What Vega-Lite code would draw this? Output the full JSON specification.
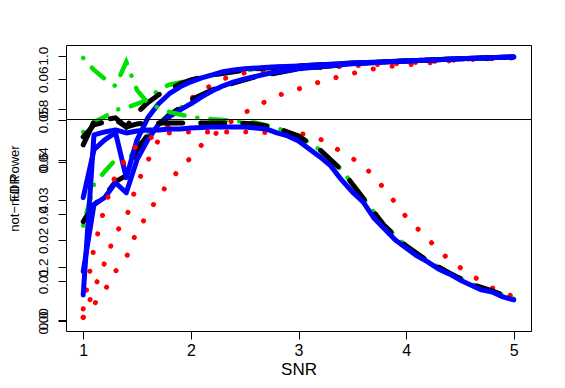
{
  "$schema": "https://vega.github.io/schema/vega-lite/v6.json",
  "width": 465,
  "height": 286,
  "autosize": "none",
  "padding": {"left": 66, "top": 45, "right": 34, "bottom": 57},
  "background": "white",
  "config": {
    "view": {"stroke": "black", "strokeWidth": 1},
    "font": "Liberation Sans",
    "axis": {"grid": false, "domain": false, "tickColor": "black", "tickWidth": 1, "tickSize": 8, "labelColor": "black", "titleColor": "black", "labelFont": "Liberation Sans", "titleFont": "Liberation Sans", "titleFontWeight": "normal"}
  },
  "datasets": {
    "power": [
      {"k": "red", "c": "r2", "s": 1.0, "v": 0.0113}, {"k": "red", "c": "r2", "s": 1.1, "v": 0.117}, {"k": "red", "c": "r2", "s": 1.2, "v": 0.219}, {"k": "red", "c": "r2", "s": 1.3, "v": 0.328}, {"k": "red", "c": "r2", "s": 1.4, "v": 0.388}, {"k": "red", "c": "r2", "s": 1.5, "v": 0.516}, {"k": "red", "c": "r2", "s": 1.6, "v": 0.603}, {"k": "red", "c": "r2", "s": 1.7, "v": 0.682}, {"k": "red", "c": "r2", "s": 1.8, "v": 0.743}, {"k": "red", "c": "r2", "s": 1.9, "v": 0.795}, {"k": "red", "c": "r2", "s": 2.0, "v": 0.837}, {"k": "red", "c": "r2", "s": 2.1, "v": 0.867}, {"k": "red", "c": "r2", "s": 2.2, "v": 0.89}, {"k": "red", "c": "r2", "s": 2.3, "v": 0.912}, {"k": "red", "c": "r2", "s": 2.5, "v": 0.935}, {"k": "red", "c": "r2", "s": 3.0, "v": 0.95}, {"k": "red", "c": "r2", "s": 3.5, "v": 0.961}, {"k": "red", "c": "r2", "s": 4.0, "v": 0.972}, {"k": "red", "c": "r2", "s": 4.5, "v": 0.984}, {"k": "red", "c": "r2", "s": 5.0, "v": 0.991},
      {"k": "red", "c": "r3", "s": 1.0, "v": 0.0113}, {"k": "red", "c": "r3", "s": 1.1, "v": 0.0603}, {"k": "red", "c": "r3", "s": 1.2, "v": 0.113}, {"k": "red", "c": "r3", "s": 1.3, "v": 0.185}, {"k": "red", "c": "r3", "s": 1.4, "v": 0.237}, {"k": "red", "c": "r3", "s": 1.5, "v": 0.339}, {"k": "red", "c": "r3", "s": 1.6, "v": 0.4}, {"k": "red", "c": "r3", "s": 1.7, "v": 0.471}, {"k": "red", "c": "r3", "s": 1.8, "v": 0.52}, {"k": "red", "c": "r3", "s": 1.9, "v": 0.577}, {"k": "red", "c": "r3", "s": 2.0, "v": 0.614}, {"k": "red", "c": "r3", "s": 2.1, "v": 0.663}, {"k": "red", "c": "r3", "s": 2.2, "v": 0.694}, {"k": "red", "c": "r3", "s": 2.3, "v": 0.731}, {"k": "red", "c": "r3", "s": 2.4, "v": 0.758}, {"k": "red", "c": "r3", "s": 2.5, "v": 0.784}, {"k": "red", "c": "r3", "s": 2.6, "v": 0.807}, {"k": "red", "c": "r3", "s": 2.8, "v": 0.848}, {"k": "red", "c": "r3", "s": 3.0, "v": 0.874}, {"k": "red", "c": "r3", "s": 3.2, "v": 0.901}, {"k": "red", "c": "r3", "s": 3.4, "v": 0.923}, {"k": "red", "c": "r3", "s": 3.6, "v": 0.942}, {"k": "red", "c": "r3", "s": 3.8, "v": 0.957}, {"k": "red", "c": "r3", "s": 4.0, "v": 0.965}, {"k": "red", "c": "r3", "s": 4.2, "v": 0.972}, {"k": "red", "c": "r3", "s": 4.4, "v": 0.98}, {"k": "red", "c": "r3", "s": 4.6, "v": 0.988}, {"k": "red", "c": "r3", "s": 4.8, "v": 0.988}, {"k": "red", "c": "r3", "s": 5.0, "v": 0.995},
      {"k": "green", "c": "gpu", "s": 1.0, "v": 0.712}, {"k": "green", "c": "gpu", "s": 1.1, "v": 0.75}, {"k": "green", "c": "gpu", "s": 1.2, "v": 0.769}, {"k": "green", "c": "gpu", "s": 1.3, "v": 0.795}, {"k": "green", "c": "gpu", "s": 1.4, "v": 0.803}, {"k": "green", "c": "gpu", "s": 1.5, "v": 0.818}, {"k": "green", "c": "gpu", "s": 1.6, "v": 0.833}, {"k": "green", "c": "gpu", "s": 1.7, "v": 0.871}, {"k": "green", "c": "gpu", "s": 1.8, "v": 0.89}, {"k": "green", "c": "gpu", "s": 2.0, "v": 0.908}, {"k": "green", "c": "gpu", "s": 2.2, "v": 0.927}, {"k": "green", "c": "gpu", "s": 2.4, "v": 0.939}, {"k": "green", "c": "gpu", "s": 2.6, "v": 0.95}, {"k": "green", "c": "gpu", "s": 3.0, "v": 0.961}, {"k": "green", "c": "gpu", "s": 3.5, "v": 0.972}, {"k": "green", "c": "gpu", "s": 4.0, "v": 0.98}, {"k": "green", "c": "gpu", "s": 4.5, "v": 0.988}, {"k": "green", "c": "gpu", "s": 5.0, "v": 0.995},
      {"k": "green", "c": "gpl", "s": 1.0, "v": 0.358}, {"k": "green", "c": "gpl", "s": 1.1, "v": 0.513}, {"k": "green", "c": "gpl", "s": 1.2, "v": 0.562}, {"k": "green", "c": "gpl", "s": 1.3, "v": 0.607}, {"k": "green", "c": "gpl", "s": 1.4, "v": 0.588}, {"k": "green", "c": "gpl", "s": 1.5, "v": 0.663}, {"k": "green", "c": "gpl", "s": 1.6, "v": 0.701}, {"k": "green", "c": "gpl", "s": 1.8, "v": 0.78}, {"k": "green", "c": "gpl", "s": 2.0, "v": 0.825}, {"k": "green", "c": "gpl", "s": 2.2, "v": 0.867}, {"k": "green", "c": "gpl", "s": 2.4, "v": 0.897}, {"k": "green", "c": "gpl", "s": 2.6, "v": 0.92}, {"k": "green", "c": "gpl", "s": 3.0, "v": 0.95}, {"k": "green", "c": "gpl", "s": 3.5, "v": 0.969}, {"k": "green", "c": "gpl", "s": 4.0, "v": 0.98}, {"k": "green", "c": "gpl", "s": 4.5, "v": 0.988}, {"k": "green", "c": "gpl", "s": 5.0, "v": 0.995},
      {"k": "black", "c": "kpu", "s": 1.0, "v": 0.663}, {"k": "black", "c": "kpu", "s": 1.1, "v": 0.75}, {"k": "black", "c": "kpu", "s": 1.2, "v": 0.758}, {"k": "black", "c": "kpu", "s": 1.3, "v": 0.765}, {"k": "black", "c": "kpu", "s": 1.4, "v": 0.731}, {"k": "black", "c": "kpu", "s": 1.5, "v": 0.784}, {"k": "black", "c": "kpu", "s": 1.6, "v": 0.822}, {"k": "black", "c": "kpu", "s": 1.7, "v": 0.852}, {"k": "black", "c": "kpu", "s": 1.8, "v": 0.874}, {"k": "black", "c": "kpu", "s": 1.9, "v": 0.893}, {"k": "black", "c": "kpu", "s": 2.0, "v": 0.908}, {"k": "black", "c": "kpu", "s": 2.2, "v": 0.927}, {"k": "black", "c": "kpu", "s": 2.4, "v": 0.939}, {"k": "black", "c": "kpu", "s": 2.6, "v": 0.95}, {"k": "black", "c": "kpu", "s": 3.0, "v": 0.961}, {"k": "black", "c": "kpu", "s": 3.5, "v": 0.972}, {"k": "black", "c": "kpu", "s": 4.0, "v": 0.98}, {"k": "black", "c": "kpu", "s": 4.5, "v": 0.988}, {"k": "black", "c": "kpu", "s": 5.0, "v": 0.995},
      {"k": "black", "c": "kpl", "s": 1.0, "v": 0.373}, {"k": "black", "c": "kpl", "s": 1.1, "v": 0.437}, {"k": "black", "c": "kpl", "s": 1.2, "v": 0.471}, {"k": "black", "c": "kpl", "s": 1.3, "v": 0.524}, {"k": "black", "c": "kpl", "s": 1.4, "v": 0.547}, {"k": "black", "c": "kpl", "s": 1.5, "v": 0.645}, {"k": "black", "c": "kpl", "s": 1.6, "v": 0.701}, {"k": "black", "c": "kpl", "s": 1.7, "v": 0.739}, {"k": "black", "c": "kpl", "s": 1.8, "v": 0.776}, {"k": "black", "c": "kpl", "s": 1.9, "v": 0.803}, {"k": "black", "c": "kpl", "s": 2.0, "v": 0.833}, {"k": "black", "c": "kpl", "s": 2.2, "v": 0.871}, {"k": "black", "c": "kpl", "s": 2.4, "v": 0.897}, {"k": "black", "c": "kpl", "s": 2.6, "v": 0.92}, {"k": "black", "c": "kpl", "s": 3.0, "v": 0.95}, {"k": "black", "c": "kpl", "s": 3.5, "v": 0.969}, {"k": "black", "c": "kpl", "s": 4.0, "v": 0.98}, {"k": "black", "c": "kpl", "s": 4.5, "v": 0.988}, {"k": "black", "c": "kpl", "s": 5.0, "v": 0.995},
      {"k": "blue", "c": "bpu", "s": 1.0, "v": 0.464}, {"k": "blue", "c": "bpu", "s": 1.1, "v": 0.645}, {"k": "blue", "c": "bpu", "s": 1.2, "v": 0.682}, {"k": "blue", "c": "bpu", "s": 1.3, "v": 0.709}, {"k": "blue", "c": "bpu", "s": 1.4, "v": 0.539}, {"k": "blue", "c": "bpu", "s": 1.5, "v": 0.682}, {"k": "blue", "c": "bpu", "s": 1.6, "v": 0.765}, {"k": "blue", "c": "bpu", "s": 1.7, "v": 0.818}, {"k": "blue", "c": "bpu", "s": 1.8, "v": 0.856}, {"k": "blue", "c": "bpu", "s": 1.9, "v": 0.882}, {"k": "blue", "c": "bpu", "s": 2.0, "v": 0.901}, {"k": "blue", "c": "bpu", "s": 2.1, "v": 0.916}, {"k": "blue", "c": "bpu", "s": 2.2, "v": 0.927}, {"k": "blue", "c": "bpu", "s": 2.3, "v": 0.939}, {"k": "blue", "c": "bpu", "s": 2.4, "v": 0.946}, {"k": "blue", "c": "bpu", "s": 2.5, "v": 0.95}, {"k": "blue", "c": "bpu", "s": 2.75, "v": 0.957}, {"k": "blue", "c": "bpu", "s": 3.0, "v": 0.961}, {"k": "blue", "c": "bpu", "s": 3.5, "v": 0.972}, {"k": "blue", "c": "bpu", "s": 4.0, "v": 0.98}, {"k": "blue", "c": "bpu", "s": 4.5, "v": 0.988}, {"k": "blue", "c": "bpu", "s": 5.0, "v": 0.995},
      {"k": "blue", "c": "bpl", "s": 1.0, "v": 0.185}, {"k": "blue", "c": "bpl", "s": 1.1, "v": 0.437}, {"k": "blue", "c": "bpl", "s": 1.2, "v": 0.464}, {"k": "blue", "c": "bpl", "s": 1.3, "v": 0.52}, {"k": "blue", "c": "bpl", "s": 1.4, "v": 0.482}, {"k": "blue", "c": "bpl", "s": 1.5, "v": 0.607}, {"k": "blue", "c": "bpl", "s": 1.6, "v": 0.682}, {"k": "blue", "c": "bpl", "s": 1.7, "v": 0.741}, {"k": "blue", "c": "bpl", "s": 1.8, "v": 0.769}, {"k": "blue", "c": "bpl", "s": 1.9, "v": 0.795}, {"k": "blue", "c": "bpl", "s": 2.0, "v": 0.818}, {"k": "blue", "c": "bpl", "s": 2.1, "v": 0.844}, {"k": "blue", "c": "bpl", "s": 2.2, "v": 0.867}, {"k": "blue", "c": "bpl", "s": 2.3, "v": 0.886}, {"k": "blue", "c": "bpl", "s": 2.4, "v": 0.901}, {"k": "blue", "c": "bpl", "s": 2.5, "v": 0.912}, {"k": "blue", "c": "bpl", "s": 2.75, "v": 0.935}, {"k": "blue", "c": "bpl", "s": 3.0, "v": 0.95}, {"k": "blue", "c": "bpl", "s": 3.5, "v": 0.969}, {"k": "blue", "c": "bpl", "s": 4.0, "v": 0.98}, {"k": "blue", "c": "bpl", "s": 4.5, "v": 0.988}, {"k": "blue", "c": "bpl", "s": 5.0, "v": 0.995}
    ],
    "fdr": [
      {"k": "red", "c": "rf", "s": 1.0, "v": 0.00298}, {"k": "red", "c": "rf", "s": 1.1, "v": 0.01812}, {"k": "red", "c": "rf", "s": 1.2, "v": 0.0283}, {"k": "red", "c": "rf", "s": 1.3, "v": 0.03625}, {"k": "red", "c": "rf", "s": 1.4, "v": 0.04047}, {"k": "red", "c": "rf", "s": 1.5, "v": 0.0437}, {"k": "red", "c": "rf", "s": 1.6, "v": 0.04518}, {"k": "red", "c": "rf", "s": 1.7, "v": 0.04643}, {"k": "red", "c": "rf", "s": 1.8, "v": 0.04667}, {"k": "red", "c": "rf", "s": 2.0, "v": 0.04692}, {"k": "red", "c": "rf", "s": 2.5, "v": 0.04692}, {"k": "red", "c": "rf", "s": 2.8, "v": 0.04667}, {"k": "red", "c": "rf", "s": 3.0, "v": 0.04667}, {"k": "red", "c": "rf", "s": 3.2, "v": 0.04518}, {"k": "red", "c": "rf", "s": 3.4, "v": 0.04196}, {"k": "red", "c": "rf", "s": 3.6, "v": 0.03873}, {"k": "red", "c": "rf", "s": 3.8, "v": 0.03277}, {"k": "red", "c": "rf", "s": 4.0, "v": 0.02582}, {"k": "red", "c": "rf", "s": 4.2, "v": 0.02036}, {"k": "red", "c": "rf", "s": 4.4, "v": 0.01514}, {"k": "red", "c": "rf", "s": 4.6, "v": 0.01142}, {"k": "red", "c": "rf", "s": 4.8, "v": 0.00819}, {"k": "red", "c": "rf", "s": 5.0, "v": 0.00596},
      {"k": "green", "c": "gf", "s": 1.0, "v": 0.0653}, {"k": "green", "c": "gf", "s": 1.1, "v": 0.0623}, {"k": "green", "c": "gf", "s": 1.2, "v": 0.0601}, {"k": "green", "c": "gf", "s": 1.3, "v": 0.0583}, {"k": "green", "c": "gf", "s": 1.4, "v": 0.0643}, {"k": "green", "c": "gf", "s": 1.5, "v": 0.0573}, {"k": "green", "c": "gf", "s": 1.6, "v": 0.0541}, {"k": "green", "c": "gf", "s": 1.7, "v": 0.0529}, {"k": "green", "c": "gf", "s": 1.8, "v": 0.0519}, {"k": "green", "c": "gf", "s": 2.0, "v": 0.0506}, {"k": "green", "c": "gf", "s": 2.2, "v": 0.0501}, {"k": "green", "c": "gf", "s": 2.4, "v": 0.0497}, {"k": "green", "c": "gf", "s": 2.6, "v": 0.0492}, {"k": "green", "c": "gf", "s": 2.8, "v": 0.0479}, {"k": "green", "c": "gf", "s": 3.0, "v": 0.0459}, {"k": "green", "c": "gf", "s": 3.2, "v": 0.04245}, {"k": "green", "c": "gf", "s": 3.4, "v": 0.0375}, {"k": "green", "c": "gf", "s": 3.6, "v": 0.0305}, {"k": "green", "c": "gf", "s": 3.8, "v": 0.0236}, {"k": "green", "c": "gf", "s": 4.0, "v": 0.0186}, {"k": "green", "c": "gf", "s": 4.2, "v": 0.0149}, {"k": "green", "c": "gf", "s": 4.4, "v": 0.0119}, {"k": "green", "c": "gf", "s": 4.6, "v": 0.0092}, {"k": "green", "c": "gf", "s": 4.8, "v": 0.0074}, {"k": "green", "c": "gf", "s": 5.0, "v": 0.0055},
      {"k": "black", "c": "kf", "s": 1.0, "v": 0.04568}, {"k": "black", "c": "kf", "s": 1.1, "v": 0.04866}, {"k": "black", "c": "kf", "s": 1.2, "v": 0.0494}, {"k": "black", "c": "kf", "s": 1.3, "v": 0.0499}, {"k": "black", "c": "kf", "s": 1.4, "v": 0.04816}, {"k": "black", "c": "kf", "s": 1.5, "v": 0.04891}, {"k": "black", "c": "kf", "s": 1.6, "v": 0.04916}, {"k": "black", "c": "kf", "s": 1.8, "v": 0.04916}, {"k": "black", "c": "kf", "s": 2.0, "v": 0.04916}, {"k": "black", "c": "kf", "s": 2.2, "v": 0.04916}, {"k": "black", "c": "kf", "s": 2.4, "v": 0.04916}, {"k": "black", "c": "kf", "s": 2.6, "v": 0.04891}, {"k": "black", "c": "kf", "s": 2.8, "v": 0.04791}, {"k": "black", "c": "kf", "s": 3.0, "v": 0.04593}, {"k": "black", "c": "kf", "s": 3.2, "v": 0.04245}, {"k": "black", "c": "kf", "s": 3.4, "v": 0.03749}, {"k": "black", "c": "kf", "s": 3.6, "v": 0.03054}, {"k": "black", "c": "kf", "s": 3.8, "v": 0.02358}, {"k": "black", "c": "kf", "s": 4.0, "v": 0.01862}, {"k": "black", "c": "kf", "s": 4.2, "v": 0.0149}, {"k": "black", "c": "kf", "s": 4.4, "v": 0.01192}, {"k": "black", "c": "kf", "s": 4.6, "v": 0.00919}, {"k": "black", "c": "kf", "s": 4.8, "v": 0.00745}, {"k": "black", "c": "kf", "s": 5.0, "v": 0.00546},
      {"k": "blue", "c": "bf", "s": 1.0, "v": 0.00645}, {"k": "blue", "c": "bf", "s": 1.1, "v": 0.04618}, {"k": "blue", "c": "bf", "s": 1.2, "v": 0.04692}, {"k": "blue", "c": "bf", "s": 1.3, "v": 0.04742}, {"k": "blue", "c": "bf", "s": 1.4, "v": 0.04667}, {"k": "blue", "c": "bf", "s": 1.5, "v": 0.04717}, {"k": "blue", "c": "bf", "s": 1.6, "v": 0.04742}, {"k": "blue", "c": "bf", "s": 1.7, "v": 0.04742}, {"k": "blue", "c": "bf", "s": 1.8, "v": 0.04767}, {"k": "blue", "c": "bf", "s": 1.9, "v": 0.04767}, {"k": "blue", "c": "bf", "s": 2.0, "v": 0.04791}, {"k": "blue", "c": "bf", "s": 2.2, "v": 0.04816}, {"k": "blue", "c": "bf", "s": 2.4, "v": 0.04816}, {"k": "blue", "c": "bf", "s": 2.5, "v": 0.04816}, {"k": "blue", "c": "bf", "s": 2.6, "v": 0.04791}, {"k": "blue", "c": "bf", "s": 2.7, "v": 0.04767}, {"k": "blue", "c": "bf", "s": 2.8, "v": 0.04667}, {"k": "blue", "c": "bf", "s": 2.9, "v": 0.04593}, {"k": "blue", "c": "bf", "s": 3.0, "v": 0.04469}, {"k": "blue", "c": "bf", "s": 3.1, "v": 0.0427}, {"k": "blue", "c": "bf", "s": 3.2, "v": 0.04072}, {"k": "blue", "c": "bf", "s": 3.3, "v": 0.03848}, {"k": "blue", "c": "bf", "s": 3.4, "v": 0.035}, {"k": "blue", "c": "bf", "s": 3.5, "v": 0.03203}, {"k": "blue", "c": "bf", "s": 3.6, "v": 0.02954}, {"k": "blue", "c": "bf", "s": 3.7, "v": 0.02557}, {"k": "blue", "c": "bf", "s": 3.8, "v": 0.02284}, {"k": "blue", "c": "bf", "s": 3.9, "v": 0.02011}, {"k": "blue", "c": "bf", "s": 4.0, "v": 0.01812}, {"k": "blue", "c": "bf", "s": 4.1, "v": 0.01614}, {"k": "blue", "c": "bf", "s": 4.2, "v": 0.01465}, {"k": "blue", "c": "bf", "s": 4.3, "v": 0.01291}, {"k": "blue", "c": "bf", "s": 4.4, "v": 0.01167}, {"k": "blue", "c": "bf", "s": 4.5, "v": 0.01018}, {"k": "blue", "c": "bf", "s": 4.6, "v": 0.00894}, {"k": "blue", "c": "bf", "s": 4.7, "v": 0.0077}, {"k": "blue", "c": "bf", "s": 4.8, "v": 0.0072}, {"k": "blue", "c": "bf", "s": 4.9, "v": 0.00596}, {"k": "blue", "c": "bf", "s": 5.0, "v": 0.00521}
    ],
    "ref": [{"v": 0.05}]
  },
  "layer": [
    {
      "data": {"name": "power"},
      "encoding": {
        "x": {"field": "s", "type": "quantitative", "scale": {"domain": [0.84, 5.16], "nice": false, "zero": false}, "axis": {"values": [1, 2, 3, 4, 5], "format": "d", "labelFontSize": 16, "labelPadding": 3, "title": "SNR", "titleFontSize": 17, "titleY": 43, "titleBaseline": "alphabetic"}},
        "y": {"field": "v", "type": "quantitative", "scale": {"domain": [-0.04, 1.04], "nice": false, "zero": false}, "axis": {"orient": "left", "values": [0, 0.2, 0.4, 0.6, 0.8, 1], "format": ".1f", "labelAngle": -90, "labelAlign": "center", "labelBaseline": "alphabetic", "labelFontSize": 13.5, "labelPadding": 11, "title": "not−null Power", "titleFontSize": 13, "titleAngle": -90, "titleX": -48, "titleY": 143, "titleAlign": "center", "titleBaseline": "alphabetic"}},
        "detail": {"field": "c"}
      },
      "layer": [
        {"transform": [{"filter": "datum.k === 'red'"}], "mark": {"type": "line", "color": "#ff0000", "strokeWidth": 5, "strokeDash": [0.1, 19], "strokeCap": "round", "clip": true}},
        {"transform": [{"filter": "datum.k === 'green'"}], "mark": {"type": "line", "color": "#00e000", "strokeWidth": 4.5, "strokeDash": [0.1, 13, 16, 13], "strokeCap": "round", "clip": true}},
        {"transform": [{"filter": "datum.k === 'black'"}], "mark": {"type": "line", "color": "#000000", "strokeWidth": 5, "strokeDash": [24, 18], "strokeCap": "round", "clip": true}},
        {"transform": [{"filter": "datum.k === 'blue'"}], "mark": {"type": "line", "color": "#0000ff", "strokeWidth": 5, "strokeCap": "round", "strokeJoin": "round", "clip": true}}
      ]
    },
    {
      "data": {"name": "fdr"},
      "encoding": {
        "x": {"field": "s", "type": "quantitative"},
        "y": {"field": "v", "type": "quantitative", "scale": {"domain": [-0.0025, 0.0685], "nice": false, "zero": false}, "axis": {"orient": "left", "values": [0, 0.01, 0.02, 0.03, 0.04, 0.05, 0.06], "format": ".2f", "labelAngle": -90, "labelAlign": "center", "labelBaseline": "alphabetic", "labelFontSize": 13.5, "labelPadding": 11, "title": "FDR", "titleFontSize": 13, "titleAngle": -90, "titleX": -48, "titleY": 143, "titleAlign": "center", "titleBaseline": "alphabetic"}},
        "detail": {"field": "c"}
      },
      "layer": [
        {"transform": [{"filter": "datum.k === 'red'"}], "mark": {"type": "line", "color": "#ff0000", "strokeWidth": 5, "strokeDash": [0.1, 19], "strokeCap": "round", "clip": true}},
        {"transform": [{"filter": "datum.k === 'green'"}], "mark": {"type": "line", "color": "#00e000", "strokeWidth": 4.5, "strokeDash": [0.1, 13, 16, 13], "strokeCap": "round", "clip": true}},
        {"transform": [{"filter": "datum.k === 'black'"}], "mark": {"type": "line", "color": "#000000", "strokeWidth": 5, "strokeDash": [24, 18], "strokeCap": "round", "clip": true}},
        {"transform": [{"filter": "datum.k === 'blue'"}], "mark": {"type": "line", "color": "#0000ff", "strokeWidth": 5, "strokeCap": "round", "strokeJoin": "round", "clip": true}},
        {"data": {"name": "ref"}, "mark": {"type": "rule", "color": "black", "strokeWidth": 1}, "encoding": {"x": null, "detail": null, "y": {"field": "v", "type": "quantitative"}}}
      ]
    }
  ],
  "resolve": {"scale": {"y": "independent"}}
}
